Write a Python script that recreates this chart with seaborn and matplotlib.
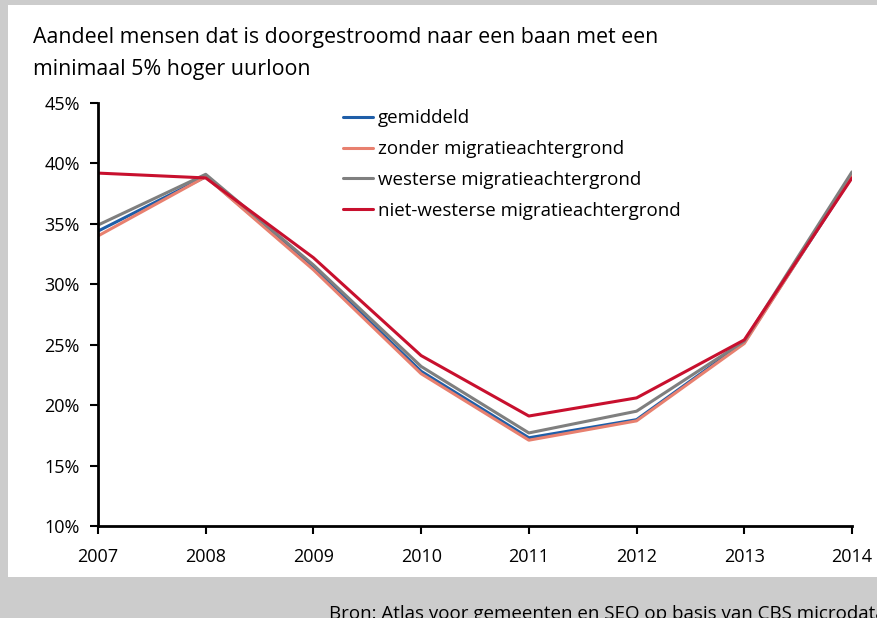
import matplotlib
matplotlib.use("Agg")
import matplotlib.pyplot as plt
from matplotlib.patches import Rectangle
from matplotlib.ticker import FuncFormatter
import pandas as pd
import seaborn as sns

# --- data -------------------------------------------------------------
years = [2007, 2008, 2009, 2010, 2011, 2012, 2013, 2014]
gemiddeld = [34.4, 38.9, 31.4, 22.8, 17.3, 18.8, 25.2, 38.9]
zonder = [34.0, 38.9, 31.2, 22.6, 17.1, 18.7, 25.1, 39.0]
westers = [34.9, 39.1, 31.6, 23.2, 17.7, 19.5, 25.3, 39.3]
niet_westers = [39.2, 38.8, 32.2, 24.1, 19.1, 20.6, 25.4, 38.8]

series_names = [
    "gemiddeld",
    "zonder migratieachtergrond",
    "westerse migratieachtergrond",
    "niet-westerse migratieachtergrond",
]
series_values = [gemiddeld, zonder, westers, niet_westers]
colors = ["#1f5ea8", "#e8806f", "#7f7f7f", "#c8102e"]

y_ticks = [10, 15, 20, 25, 30, 35, 40, 45]

title = ("Aandeel mensen dat is doorgestroomd naar een baan met een\n"
         "minimaal 5% hoger uurloon")
source = "Bron: Atlas voor gemeenten en SEO op basis van CBS microdata"

df = pd.concat(
    [pd.DataFrame({"jaar": years, "aandeel": vals, "groep": name})
     for name, vals in zip(series_names, series_values)],
    ignore_index=True,
)

# --- figure -----------------------------------------------------------
sns.set_theme(style="white")
plt.rcParams["font.family"] = ["Open Sans", "DejaVu Sans"]
plt.rcParams["text.color"] = "black"

W, H = 877, 618
fig = plt.figure(figsize=(W / 100, H / 100), dpi=100, facecolor="#cccccc")

# white chart panel behind everything
fig.patches.append(Rectangle((8 / W, 1 - 577 / H), 1, (577 - 5) / H,
                             transform=fig.transFigure, facecolor="white",
                             edgecolor="none", zorder=-10))

ax = fig.add_axes([98 / W, 1 - 526 / H, (852 - 98) / W, (526 - 103) / H])
ax.set_facecolor("none")
ax.set_zorder(5)

sns.lineplot(data=df, x="jaar", y="aandeel", hue="groep",
             hue_order=series_names, palette=colors, linewidth=2.2,
             ax=ax, legend=True)

ax.set_xlim(years[0], years[-1])
ax.set_ylim(y_ticks[0], y_ticks[-1])
ax.set_xticks(years)
ax.set_yticks(y_ticks)
ax.yaxis.set_major_formatter(FuncFormatter(lambda v, _: f"{v:.0f}%"))
ax.set_xlabel("")
ax.set_ylabel("")

for side in ("top", "right"):
    ax.spines[side].set_visible(False)
for side in ("left", "bottom"):
    ax.spines[side].set_color("black")
    ax.spines[side].set_linewidth(2)

ax.tick_params(axis="both", which="major", direction="out", length=6,
               width=1.5, color="black", labelsize=13, labelcolor="black")
ax.tick_params(axis="x", pad=10)
ax.tick_params(axis="y", pad=7)
ax.xaxis.set_ticks_position("bottom")
ax.yaxis.set_ticks_position("left")

leg = ax.legend(loc="upper left", bbox_to_anchor=(0.325, 0.985),
                frameon=False, fontsize=13.5, handlelength=1.6,
                handletextpad=0.27, labelspacing=0.68, borderaxespad=0,
                borderpad=0, labelcolor="black")
for line in leg.get_lines():
    line.set_linewidth(2.2)

fig.text(33 / W, 1 - 27 / H, title, ha="left", va="top", fontsize=15.4,
         linespacing=1.7, color="black")

fig.text(329 / W, 1 - 619 / H, source, ha="left", va="baseline",
         fontsize=13.5, color="black")

fig.savefig("out.png", dpi=100, facecolor=fig.get_facecolor())
